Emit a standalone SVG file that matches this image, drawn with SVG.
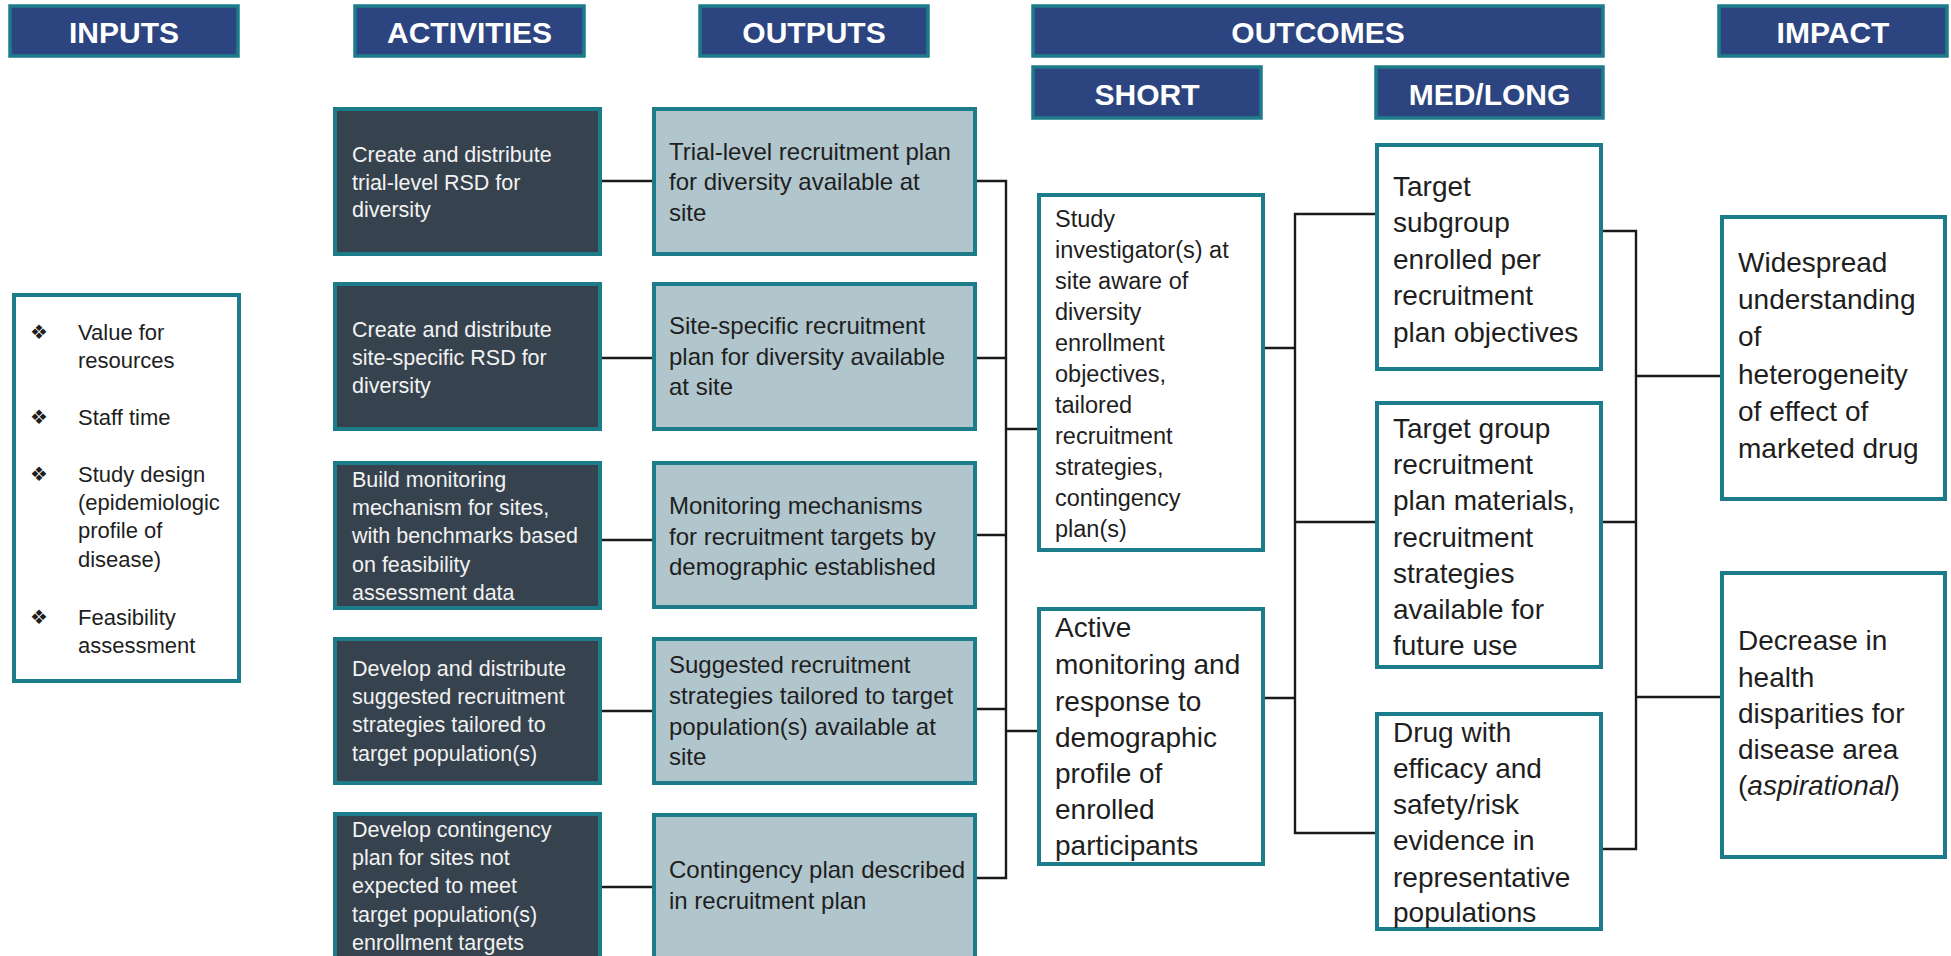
<svg xmlns="http://www.w3.org/2000/svg" width="1951" height="956" viewBox="0 0 1951 956">
<style>
.hdr{fill:#2C4580;stroke:#1C7C8A;stroke-width:3.5}
.ht{font-family:"Liberation Sans",Arial,sans-serif;font-weight:bold;font-size:30px;fill:#fff;text-anchor:middle}
.act{fill:#36424E;stroke:#1C7C8A;stroke-width:4}
.out{fill:#B1C5CC;stroke:#1C7C8A;stroke-width:4}
.wb{fill:#fff;stroke:#1C7C8A;stroke-width:4}
.at{font-family:"Liberation Sans",Arial,sans-serif;font-size:21.5px;fill:#F2F2F2}
.ot{font-family:"Liberation Sans",Arial,sans-serif;font-size:24px;fill:#1E1E1E}
.st{font-family:"Liberation Sans",Arial,sans-serif;font-size:23.5px;fill:#1E1E1E}
.bt{font-family:"Liberation Sans",Arial,sans-serif;font-size:28px;fill:#1E1E1E}
.it{font-family:"Liberation Sans",Arial,sans-serif;font-size:22px;fill:#1E1E1E}
.bul{font-family:"DejaVu Sans",sans-serif;font-size:20px;fill:#1E1E1E;text-anchor:middle}
.cn{fill:none;stroke:#1A1A1A;stroke-width:2.4}
</style>
<rect width="1951" height="956" fill="#fff"/>

<g id="headers">
<g id="h-inputs"><rect class="hdr" x="10" y="6" width="228" height="50"/><text class="ht" x="124" y="43">INPUTS</text></g>
<g id="h-activities"><rect class="hdr" x="355" y="6" width="229" height="50"/><text class="ht" x="469.5" y="43">ACTIVITIES</text></g>
<g id="h-outputs"><rect class="hdr" x="700" y="6" width="228" height="50"/><text class="ht" x="814" y="43">OUTPUTS</text></g>
<g id="h-outcomes"><rect class="hdr" x="1033" y="6" width="570" height="50"/><text class="ht" x="1318" y="43">OUTCOMES</text></g>
<g id="h-impact"><rect class="hdr" x="1719" y="6" width="228" height="50"/><text class="ht" x="1833" y="43">IMPACT</text></g>
<g id="h-short"><rect class="hdr" x="1033" y="67" width="228" height="51"/><text class="ht" x="1147" y="105">SHORT</text></g>
<g id="h-medlong"><rect class="hdr" x="1376" y="67" width="227" height="51"/><text class="ht" x="1489.5" y="105">MED/LONG</text></g>
</g>

<g id="connectors">
<path class="cn" d="M602 181H652M602 358H652M602 540H652M602 711H652M602 887H652"/>
<path class="cn" d="M977 181H1006V878H977M977 358H1006M977 535H1006M977 709H1006M1006 429H1037M1006 731H1037"/>
<path class="cn" d="M1265 348H1295M1265 698H1295M1375 214H1295V833H1375M1295 522H1375"/>
<path class="cn" d="M1603 231H1636V849H1603M1603 522H1636M1636 376H1720M1636 697H1720"/>
</g>

<g id="inputs">
<rect class="wb" x="14" y="295" width="225" height="386"/>
<text class="bul" x="39" y="339">❖</text>
<text class="bul" x="39" y="424">❖</text>
<text class="bul" x="39" y="481">❖</text>
<text class="bul" x="39" y="624">❖</text>
<text class="it"><tspan x="78" y="340">Value for</tspan><tspan x="78" y="368">resources</tspan><tspan x="78" y="425">Staff time</tspan><tspan x="78" y="482">Study design</tspan><tspan x="78" y="510">(epidemiologic</tspan><tspan x="78" y="538">profile of</tspan><tspan x="78" y="567">disease)</tspan><tspan x="78" y="625">Feasibility</tspan><tspan x="78" y="653">assessment</tspan></text>
</g>

<g id="act1"><rect class="act" x="335" y="109" width="265" height="145"/>
<text class="at"><tspan x="352" y="162">Create and distribute</tspan><tspan x="352" y="190">trial-level RSD for</tspan><tspan x="352" y="217">diversity</tspan></text></g>
<g id="act2"><rect class="act" x="335" y="284" width="265" height="145"/>
<text class="at"><tspan x="352" y="337">Create and distribute</tspan><tspan x="352" y="365">site-specific RSD for</tspan><tspan x="352" y="393">diversity</tspan></text></g>
<g id="act3"><rect class="act" x="335" y="463" width="265" height="145"/>
<text class="at"><tspan x="352" y="487">Build monitoring</tspan><tspan x="352" y="515">mechanism for sites,</tspan><tspan x="352" y="543">with benchmarks based</tspan><tspan x="352" y="572">on feasibility</tspan><tspan x="352" y="600">assessment data</tspan></text></g>
<g id="act4"><rect class="act" x="335" y="639" width="265" height="144"/>
<text class="at"><tspan x="352" y="676">Develop and distribute</tspan><tspan x="352" y="704">suggested recruitment</tspan><tspan x="352" y="732">strategies tailored to</tspan><tspan x="352" y="761">target population(s)</tspan></text></g>
<g id="act5"><rect class="act" x="335" y="814" width="265" height="150"/>
<text class="at"><tspan x="352" y="837">Develop contingency</tspan><tspan x="352" y="865">plan for sites not</tspan><tspan x="352" y="893">expected to meet</tspan><tspan x="352" y="922">target population(s)</tspan><tspan x="352" y="950">enrollment targets</tspan></text></g>

<g id="out1"><rect class="out" x="654" y="109" width="321" height="145"/>
<text class="ot"><tspan x="669" y="160">Trial-level recruitment plan</tspan><tspan x="669" y="190">for diversity available at</tspan><tspan x="669" y="221">site</tspan></text></g>
<g id="out2"><rect class="out" x="654" y="284" width="321" height="145"/>
<text class="ot"><tspan x="669" y="334">Site-specific recruitment</tspan><tspan x="669" y="365">plan for diversity available</tspan><tspan x="669" y="395">at site</tspan></text></g>
<g id="out3"><rect class="out" x="654" y="463" width="321" height="144"/>
<text class="ot"><tspan x="669" y="514">Monitoring mechanisms</tspan><tspan x="669" y="545">for recruitment targets by</tspan><tspan x="669" y="575">demographic established</tspan></text></g>
<g id="out4"><rect class="out" x="654" y="639" width="321" height="144"/>
<text class="ot"><tspan x="669" y="673">Suggested recruitment</tspan><tspan x="669" y="704">strategies tailored to target</tspan><tspan x="669" y="735">population(s) available at</tspan><tspan x="669" y="765">site</tspan></text></g>
<g id="out5"><rect class="out" x="654" y="815" width="321" height="150"/>
<text class="ot"><tspan x="669" y="878">Contingency plan described</tspan><tspan x="669" y="909">in recruitment plan</tspan></text></g>

<g id="short1"><rect class="wb" x="1039" y="195" width="224" height="355"/>
<text class="st"><tspan x="1055" y="227">Study</tspan><tspan x="1055" y="258">investigator(s) at</tspan><tspan x="1055" y="289">site aware of</tspan><tspan x="1055" y="320">diversity</tspan><tspan x="1055" y="351">enrollment</tspan><tspan x="1055" y="382">objectives,</tspan><tspan x="1055" y="413">tailored</tspan><tspan x="1055" y="444">recruitment</tspan><tspan x="1055" y="475">strategies,</tspan><tspan x="1055" y="506">contingency</tspan><tspan x="1055" y="537">plan(s)</tspan></text></g>
<g id="short2"><rect class="wb" x="1039" y="609" width="224" height="255"/>
<text class="bt"><tspan x="1055" y="637">Active</tspan><tspan x="1055" y="674">monitoring and</tspan><tspan x="1055" y="711">response to</tspan><tspan x="1055" y="747">demographic</tspan><tspan x="1055" y="783">profile of</tspan><tspan x="1055" y="819">enrolled</tspan><tspan x="1055" y="855">participants</tspan></text></g>

<g id="med1"><rect class="wb" x="1377" y="145" width="224" height="224"/>
<text class="bt"><tspan x="1393" y="196">Target</tspan><tspan x="1393" y="232">subgroup</tspan><tspan x="1393" y="269">enrolled per</tspan><tspan x="1393" y="305">recruitment</tspan><tspan x="1393" y="342">plan objectives</tspan></text></g>
<g id="med2"><rect class="wb" x="1377" y="403" width="224" height="264"/>
<text class="bt"><tspan x="1393" y="438">Target group</tspan><tspan x="1393" y="474">recruitment</tspan><tspan x="1393" y="510">plan materials,</tspan><tspan x="1393" y="547">recruitment</tspan><tspan x="1393" y="583">strategies</tspan><tspan x="1393" y="619">available for</tspan><tspan x="1393" y="655">future use</tspan></text></g>
<g id="med3"><rect class="wb" x="1377" y="714" width="224" height="215"/>
<text class="bt"><tspan x="1393" y="742">Drug with</tspan><tspan x="1393" y="778">efficacy and</tspan><tspan x="1393" y="814">safety/risk</tspan><tspan x="1393" y="850">evidence in</tspan><tspan x="1393" y="887">representative</tspan><tspan x="1393" y="922">populations</tspan></text></g>

<g id="impact1"><rect class="wb" x="1722" y="217" width="223" height="282"/>
<text class="bt"><tspan x="1738" y="272">Widespread</tspan><tspan x="1738" y="309">understanding</tspan><tspan x="1738" y="346">of</tspan><tspan x="1738" y="384">heterogeneity</tspan><tspan x="1738" y="421">of effect of</tspan><tspan x="1738" y="458">marketed drug</tspan></text></g>
<g id="impact2"><rect class="wb" x="1722" y="573" width="223" height="284"/>
<text class="bt"><tspan x="1738" y="650">Decrease in</tspan><tspan x="1738" y="687">health</tspan><tspan x="1738" y="723">disparities for</tspan><tspan x="1738" y="759">disease area</tspan><tspan x="1738" y="795">(<tspan font-style="italic">aspirational</tspan>)</tspan></text></g>
</svg>
